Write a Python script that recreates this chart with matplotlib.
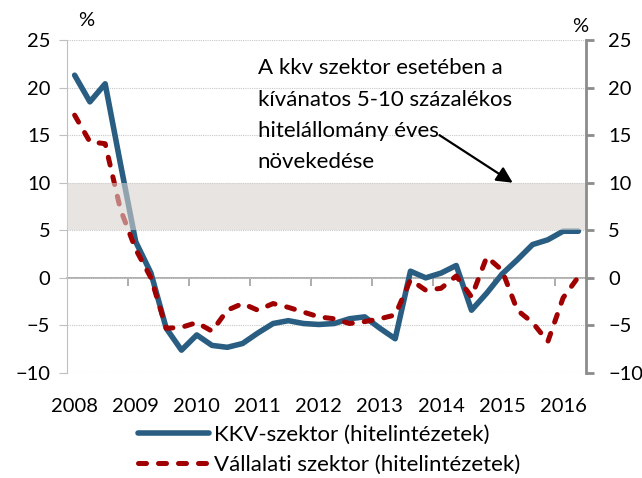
import numpy as np
import matplotlib
matplotlib.use("Agg")
import matplotlib.pyplot as plt

# quarterly data, 2008 Q1 - 2016 Q2
years = ["2008", "2009", "2010", "2011", "2012", "2013", "2014", "2015", "2016"]
kkv = [21.3, 18.5, 20.4, 12.0, 3.8, 0.5, -5.3, -7.6, -6.0, -7.1, -7.3, -6.9,
       -5.8, -4.8, -4.5, -4.8, -4.9, -4.8, -4.3, -4.1, -5.3, -6.4, 0.7, 0.0,
       0.5, 1.3, -3.4, -1.6, 0.4, 1.9, 3.5, 4.0, 4.9, 4.9]
vallalati = [17.1, 14.3, 14.1, 7.2, 3.0, 0.0, -5.3, -5.2, -4.7, -5.6, -3.4, -2.7,
             -3.4, -2.7, -3.1, -3.6, -4.1, -4.3, -4.8, -4.6, -4.3, -3.9, -0.2, -1.3,
             -1.1, 0.2, -2.0, 2.2, 0.8, -3.4, -4.7, -6.7, -2.1, 0.1]
target_band = (5, 10)
annot_text = "A kkv szektor esetében a\nkívánatos 5-10 százalékos\nhitelállomány éves\nnövekedése"

plt.rcParams["font.family"] = ["Lato", "DejaVu Sans"]
FS = 14.5
FS_TXT = 16
BLUE = "#295e82"
RED = "#a00000"

x = np.arange(len(kkv))

fig = plt.figure(figsize=(6.42, 4.78), dpi=100)
ax = fig.add_axes([67 / 642, 1 - 373 / 478, 519 / 642, 333 / 478])

ax.plot(x, kkv, color=BLUE, lw=4, solid_capstyle="round", solid_joinstyle="round",
        label="KKV-szektor (hitelintézetek)", zorder=3)
ax.plot(x, vallalati, color=RED, lw=3.6, dashes=(1.6, 2.4), dash_capstyle="round",
        label="Vállalati szektor (hitelintézetek)", zorder=3)
ax.axhspan(*target_band, facecolor="#d7d2cd", alpha=0.6, lw=0, zorder=4)

ax.set_xlim(-0.5, len(kkv) - 0.5)
ax.set_ylim(-10, 25)
ax.set_yticks(np.arange(-10, 26, 5))
ax.grid(axis="y", color="#c8c8c8", linestyle=(0, (1, 1)), lw=0.8, zorder=1)
for s in ["top", "right", "bottom"]:
    ax.spines[s].set_visible(False)
ax.spines["left"].set_color("#bfbfbf")
ax.tick_params(axis="y", direction="out", length=6, color="#bfbfbf", labelsize=FS, pad=6)

# year labels at first quarter of each year
ax.set_xticks(np.arange(0, len(kkv), 4))
ax.set_xticklabels(years)
ax.tick_params(axis="x", length=0, labelsize=FS, pad=18)

# category axis crossing at zero
sec = ax.secondary_xaxis(0, transform=ax.transData)
sec.spines["bottom"].set_color("#a0a0a0")
sec.spines["bottom"].set_linewidth(1.2)
sec.set_xticks(np.arange(3.5, len(kkv) - 1, 4))
sec.set_xticklabels([])
sec.tick_params(axis="x", direction="out", length=6, color="#a0a0a0", width=1.2)

ax2 = ax.twinx()
ax2.set_ylim(ax.get_ylim())
ax2.set_yticks(np.arange(-10, 26, 5))
for s in ["top", "left", "bottom"]:
    ax2.spines[s].set_visible(False)
ax2.spines["right"].set_color("#8c8c8c")
ax2.spines["right"].set_linewidth(2)
ax2.tick_params(axis="y", direction="out", length=6, width=2, color="#8c8c8c",
                labelsize=FS, pad=10)

fig.text(86 / 642, 1 - 21 / 478, "%", fontsize=FS, ha="center", va="center")
fig.text(580 / 642, 1 - 26 / 478, "%", fontsize=FS, ha="center", va="center")

ax.text(12.0, 17.1, annot_text, fontsize=FS_TXT, ha="left", va="center", linespacing=1.7, zorder=5)
ax.annotate("", xy=(28.7, 10.0), xytext=(23.9, 15.0), zorder=5,
            arrowprops=dict(arrowstyle="-|>", color="black", lw=1.6,
                            mutation_scale=24, shrinkA=0, shrinkB=0))

handles, labels = ax.get_legend_handles_labels()
fig.legend(handles, labels, loc="upper left", bbox_to_anchor=(138 / 642, 1 - 425 / 478),
           frameon=False, fontsize=FS_TXT, handlelength=3.2, handletextpad=0.22,
           labelspacing=0.45, borderpad=0, borderaxespad=0)

fig.savefig("out.png", dpi=100)
